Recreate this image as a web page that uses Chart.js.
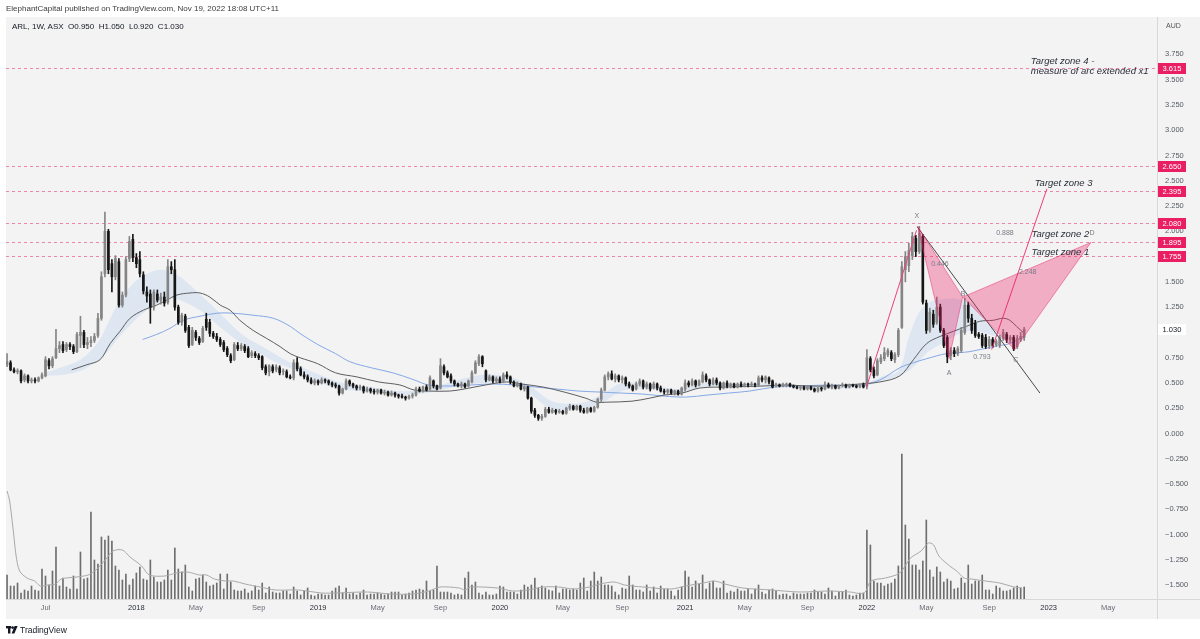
<!DOCTYPE html>
<html><head><meta charset="utf-8">
<script src="https://cdn.jsdelivr.net/npm/chart.js"></script>
<style>
html,body{margin:0;padding:0;background:#fff;width:1200px;height:639px;overflow:hidden;font-family:"Liberation Sans",Arial,sans-serif;}
#wrap{position:relative;width:1200px;height:639px;}
canvas{position:absolute;left:0;top:0;}
.t{position:absolute;white-space:nowrap;line-height:10px;}
</style></head><body>
<div id="wrap">
<canvas id="c" width="1200" height="639"></canvas>
<div class="t" style="left:6px;top:4px;font-size:8px;color:#3a3a3a;">ElephantCapital published on TradingView.com, Nov 19, 2022 18:08 UTC+11</div>
<div class="t" style="left:12px;top:22px;font-size:8px;color:#131722;">ARL, 1W, ASX&nbsp; O0.950&nbsp; H1.050&nbsp; L0.920&nbsp; C1.030</div>
<div class="t" style="left:6px;top:625px;font-size:8.5px;color:#131722;"><svg width="12" height="8" viewBox="0 0 12 8" style="vertical-align:-1px;margin-right:2px"><rect x="0" y="0" width="5" height="2.4" fill="#131722"/><rect x="2" y="0" width="2.4" height="7.5" fill="#131722"/><circle cx="6.6" cy="1.6" r="1.4" fill="#131722"/><polygon points="8.6,0 11.6,0 8.4,7.5 5.6,7.5" fill="#131722"/></svg>TradingView</div>
</div>
<script>
// ---- weekly candles (index 0 = week of 17 Apr 2017, index 291 = week of 14 Nov 2022)
const openPrices = [
0.68,0.70,0.63,0.61,0.62,0.53,0.57,0.52,0.53,0.52,
0.55,0.57,0.72,0.67,0.75,0.84,0.88,0.83,0.88,0.86,
0.81,0.97,1.00,0.88,0.90,0.92,0.97,1.14,1.58,2.00,
1.68,1.55,1.70,1.27,1.37,1.73,1.92,1.74,1.72,1.57,
1.40,1.38,1.25,1.38,1.32,1.35,1.30,1.65,1.62,1.25,
1.10,1.16,1.05,0.88,1.00,0.94,0.91,1.13,1.10,0.99,
0.96,0.93,0.90,0.84,0.77,0.73,0.87,0.84,0.86,0.84,
0.77,0.79,0.77,0.76,0.66,0.61,0.66,0.63,0.65,0.61,
0.61,0.56,0.55,0.70,0.64,0.58,0.56,0.53,0.50,0.52,
0.50,0.53,0.52,0.50,0.48,0.47,0.40,0.44,0.52,0.49,
0.47,0.45,0.46,0.42,0.44,0.42,0.41,0.43,0.40,0.41,
0.38,0.40,0.38,0.37,0.36,0.35,0.37,0.38,0.44,0.42,
0.46,0.44,0.52,0.47,0.45,0.66,0.60,0.57,0.52,0.49,
0.47,0.49,0.47,0.51,0.60,0.69,0.76,0.62,0.53,0.56,
0.52,0.54,0.52,0.58,0.56,0.51,0.47,0.49,0.44,0.46,
0.35,0.23,0.18,0.15,0.17,0.24,0.21,0.23,0.21,0.22,
0.20,0.25,0.27,0.24,0.27,0.23,0.21,0.25,0.22,0.26,
0.34,0.43,0.56,0.59,0.54,0.57,0.53,0.55,0.49,0.47,
0.44,0.49,0.52,0.46,0.49,0.45,0.49,0.45,0.42,0.41,
0.43,0.40,0.42,0.39,0.44,0.50,0.48,0.52,0.48,0.51,
0.57,0.53,0.49,0.53,0.50,0.45,0.50,0.47,0.49,0.46,
0.49,0.47,0.49,0.48,0.49,0.48,0.55,0.53,0.55,0.52,
0.47,0.48,0.47,0.48,0.49,0.47,0.46,0.45,0.46,0.44,
0.46,0.44,0.42,0.45,0.44,0.48,0.46,0.47,0.45,0.47,
0.48,0.46,0.48,0.47,0.46,0.48,0.47,0.74,0.63,0.58,
0.71,0.74,0.78,0.80,0.73,0.78,1.05,1.62,1.66,1.76,
1.93,1.80,1.95,1.29,1.02,1.18,1.10,1.25,1.02,0.95,
0.77,0.82,0.79,0.82,1.00,1.27,1.14,1.09,0.98,0.97,
0.95,0.87,0.93,0.88,0.87,0.94,0.98,0.93,0.95,0.86,
0.93,0.95];
const highPrices = [
0.79,0.72,0.65,0.64,0.63,0.59,0.58,0.55,0.55,0.56,
0.60,0.76,0.74,0.76,1.03,0.91,0.91,0.90,0.90,0.88,
1.00,1.16,1.02,0.95,0.96,0.99,1.19,1.60,2.19,2.02,
1.72,1.76,1.73,1.40,1.75,1.95,1.97,1.78,1.80,1.60,
1.45,1.42,1.42,1.42,1.39,1.40,1.72,1.70,1.72,1.27,
1.19,1.18,1.07,1.05,1.02,0.96,1.06,1.19,1.13,1.01,
0.99,0.95,0.92,0.86,0.79,0.90,0.90,0.89,0.88,0.86,
0.82,0.81,0.79,0.77,0.68,0.68,0.68,0.68,0.67,0.64,
0.63,0.58,0.73,0.75,0.66,0.61,0.58,0.55,0.54,0.53,
0.55,0.54,0.53,0.51,0.50,0.48,0.45,0.54,0.53,0.50,
0.48,0.48,0.47,0.46,0.45,0.44,0.44,0.44,0.43,0.42,
0.42,0.41,0.39,0.39,0.37,0.38,0.40,0.46,0.46,0.47,
0.48,0.57,0.53,0.48,0.74,0.68,0.62,0.59,0.53,0.50,
0.51,0.50,0.53,0.62,0.72,0.78,0.77,0.63,0.58,0.57,
0.56,0.56,0.60,0.61,0.57,0.52,0.51,0.50,0.47,0.47,
0.36,0.25,0.19,0.19,0.26,0.26,0.25,0.24,0.24,0.23,
0.26,0.29,0.28,0.28,0.28,0.25,0.26,0.26,0.27,0.35,
0.45,0.58,0.61,0.62,0.59,0.58,0.57,0.56,0.51,0.48,
0.51,0.54,0.53,0.51,0.50,0.51,0.50,0.47,0.44,0.44,
0.44,0.43,0.43,0.46,0.53,0.52,0.54,0.53,0.53,0.61,
0.59,0.54,0.55,0.55,0.51,0.51,0.52,0.50,0.50,0.50,
0.51,0.50,0.50,0.51,0.50,0.57,0.57,0.57,0.56,0.53,
0.50,0.49,0.50,0.50,0.50,0.48,0.47,0.47,0.47,0.47,
0.47,0.45,0.46,0.46,0.51,0.50,0.49,0.48,0.48,0.50,
0.49,0.49,0.49,0.48,0.49,0.50,0.83,0.76,0.66,0.74,
0.78,0.85,0.84,0.82,0.80,1.04,1.70,1.80,1.88,1.99,
1.96,2.05,1.97,1.32,1.24,1.22,1.35,1.28,1.04,0.97,
0.85,0.85,0.86,1.05,1.34,1.30,1.18,1.12,1.00,0.99,
0.98,0.96,0.95,0.93,0.97,1.03,1.00,0.97,0.97,0.97,
1.00,1.05];
const lowPrices = [
0.66,0.62,0.60,0.59,0.50,0.51,0.50,0.50,0.50,0.51,
0.54,0.56,0.64,0.65,0.74,0.80,0.80,0.81,0.83,0.79,
0.80,0.85,0.85,0.84,0.86,0.90,0.95,1.12,1.55,1.58,
1.40,1.52,1.25,1.25,1.35,1.70,1.70,1.64,1.55,1.38,
1.30,1.09,1.22,1.30,1.28,1.26,1.28,1.58,1.22,1.08,
1.07,1.00,0.85,0.87,0.92,0.88,0.90,1.02,0.96,0.94,
0.91,0.86,0.81,0.76,0.70,0.72,0.82,0.82,0.80,0.75,
0.75,0.75,0.73,0.63,0.58,0.57,0.60,0.61,0.58,0.58,
0.55,0.54,0.53,0.62,0.57,0.54,0.51,0.49,0.48,0.48,
0.49,0.50,0.48,0.46,0.45,0.38,0.39,0.43,0.47,0.45,
0.43,0.43,0.40,0.41,0.40,0.39,0.39,0.39,0.38,0.37,
0.37,0.36,0.35,0.35,0.33,0.34,0.35,0.37,0.41,0.41,
0.42,0.43,0.45,0.43,0.44,0.58,0.55,0.50,0.47,0.46,
0.45,0.45,0.46,0.50,0.59,0.67,0.66,0.51,0.52,0.50,
0.50,0.50,0.51,0.54,0.49,0.46,0.46,0.43,0.42,0.34,
0.20,0.16,0.13,0.13,0.16,0.20,0.20,0.19,0.20,0.19,
0.19,0.23,0.23,0.23,0.21,0.20,0.20,0.21,0.21,0.25,
0.31,0.42,0.53,0.53,0.51,0.51,0.50,0.47,0.45,0.42,
0.43,0.47,0.44,0.44,0.42,0.44,0.43,0.41,0.39,0.38,
0.39,0.38,0.38,0.38,0.42,0.46,0.47,0.46,0.47,0.50,
0.51,0.47,0.48,0.48,0.43,0.44,0.45,0.45,0.45,0.45,
0.46,0.46,0.46,0.47,0.46,0.47,0.51,0.50,0.49,0.45,
0.46,0.46,0.46,0.46,0.46,0.45,0.44,0.43,0.43,0.43,
0.43,0.41,0.41,0.42,0.43,0.45,0.44,0.44,0.44,0.46,
0.45,0.45,0.46,0.45,0.45,0.45,0.44,0.61,0.55,0.57,
0.69,0.72,0.76,0.72,0.70,0.76,1.04,1.50,1.60,1.72,
1.75,1.78,1.28,0.99,1.00,1.05,1.08,1.00,0.85,0.70,
0.73,0.76,0.77,0.80,0.98,1.10,0.99,0.95,0.94,0.85,
0.84,0.84,0.85,0.86,0.85,0.92,0.90,0.90,0.82,0.84,
0.91,0.92];
const closePrices = [
0.71,0.63,0.61,0.62,0.52,0.57,0.52,0.53,0.52,0.55,
0.58,0.73,0.67,0.74,0.84,0.87,0.82,0.88,0.86,0.81,
0.98,1.00,0.88,0.90,0.92,0.96,1.14,1.55,2.00,1.62,
1.55,1.73,1.27,1.37,1.72,1.90,1.74,1.68,1.58,1.41,
1.36,1.25,1.40,1.32,1.35,1.29,1.65,1.62,1.25,1.10,
1.17,1.02,0.87,1.02,0.95,0.90,1.04,1.05,0.99,0.96,
0.93,0.88,0.83,0.78,0.72,0.88,0.84,0.87,0.82,0.76,
0.80,0.77,0.75,0.65,0.60,0.67,0.62,0.66,0.60,0.62,
0.56,0.55,0.70,0.64,0.58,0.56,0.53,0.50,0.52,0.50,
0.53,0.52,0.50,0.48,0.47,0.40,0.44,0.52,0.49,0.47,
0.45,0.46,0.42,0.44,0.42,0.41,0.43,0.40,0.41,0.38,
0.40,0.38,0.37,0.36,0.35,0.37,0.38,0.44,0.42,0.46,
0.43,0.55,0.47,0.44,0.67,0.60,0.56,0.52,0.49,0.47,
0.49,0.46,0.52,0.60,0.70,0.76,0.69,0.53,0.56,0.52,
0.54,0.51,0.58,0.56,0.51,0.47,0.49,0.44,0.46,0.35,
0.22,0.18,0.15,0.17,0.24,0.21,0.23,0.21,0.22,0.20,
0.25,0.27,0.24,0.27,0.23,0.21,0.25,0.22,0.26,0.34,
0.43,0.56,0.59,0.54,0.57,0.53,0.55,0.49,0.47,0.43,
0.49,0.52,0.46,0.49,0.44,0.49,0.45,0.42,0.41,0.43,
0.40,0.42,0.39,0.45,0.50,0.48,0.52,0.48,0.52,0.58,
0.53,0.49,0.53,0.50,0.45,0.50,0.47,0.49,0.46,0.49,
0.47,0.49,0.48,0.49,0.48,0.55,0.53,0.56,0.51,0.46,
0.48,0.47,0.48,0.49,0.47,0.46,0.45,0.46,0.44,0.46,
0.44,0.42,0.45,0.44,0.48,0.46,0.47,0.45,0.47,0.48,
0.46,0.48,0.47,0.46,0.48,0.46,0.75,0.63,0.57,0.72,
0.75,0.80,0.82,0.74,0.78,1.02,1.65,1.75,1.81,1.95,
1.80,1.98,1.30,1.02,1.20,1.08,1.25,1.02,0.87,0.76,
0.82,0.79,0.84,1.02,1.27,1.14,1.02,0.97,0.96,0.87,
0.86,0.93,0.87,0.91,0.95,1.00,0.93,0.95,0.84,0.94,
0.96,1.03];
// weekly volume (chart units)
const volumes = [
24,13,13,16,6,9,8,13,9,8,
30,23,14,28,52,13,21,12,10,23,
10,47,20,21,87,39,35,62,59,63,
58,33,29,19,25,14,20,26,32,20,
19,39,22,17,17,19,29,19,51,30,
27,34,12,8,20,21,24,17,13,14,
16,25,10,25,17,9,8,8,10,6,
8,13,9,16,6,12,7,6,6,8,
8,5,12,8,4,8,11,4,3,5,
5,4,4,8,11,13,6,11,5,6,
4,6,9,4,5,5,6,5,4,5,
7,7,7,4,5,6,8,9,10,9,
18,8,9,33,7,7,7,6,4,5,
4,21,27,14,17,6,4,7,4,4,
5,13,12,7,7,7,5,9,14,12,
14,21,11,13,11,9,8,13,6,10,
10,9,10,9,16,21,8,18,27,18,
22,14,14,13,7,4,11,10,23,14,
9,9,7,14,8,12,6,13,10,10,
8,3,9,12,28,22,12,18,15,24,
10,16,18,11,11,18,6,8,7,10,
8,8,10,5,10,14,7,5,9,10,
8,4,5,5,3,6,5,5,5,6,
6,9,7,7,5,11,8,3,7,7,
9,4,3,4,6,6,69,54,18,16,
16,13,15,16,20,33,145,74,60,34,
34,29,38,79,29,22,32,27,17,20,
18,10,11,21,16,34,15,18,18,24,
9,9,5,13,11,8,8,9,11,13,
11,12];
// moving averages: [week index, value]
const maDarkWeeks  = [18.5,22.8,26.6,29.5,32.3,35.2,39,42.8,45.7,48.6,52.3,55.2,58,61,63.8,66.6,70.4,74.3,78.1,81,83.8,88.9,94,100.1,106.3,112.4,116.5,120.6,126.7,130.8,136.9,143,147.1,153.3,159.4,165.5,168.6,171.6,178.8,183.9,188,193.1,198.2,206.4,216.6,222.7,228.8,235,244,249.7,255.4,259.3,263.1,266.9,270.7,274.5,278.3,282.1,285,286.9,288.8,290.7];
const maDarkValues = [0.63,0.68,0.73,0.89,1.01,1.14,1.22,1.27,1.32,1.37,1.39,1.39,1.35,1.27,1.22,1.12,1.02,0.94,0.86,0.79,0.75,0.69,0.60,0.56,0.51,0.48,0.43,0.42,0.42,0.44,0.48,0.51,0.49,0.46,0.41,0.35,0.31,0.31,0.32,0.35,0.38,0.40,0.45,0.46,0.47,0.48,0.47,0.47,0.49,0.51,0.57,0.73,0.89,0.96,1.01,1.06,1.11,1.12,1.14,1.12,1.06,1.00];
const maBlueWeeks  = [38.8,42.8,46.6,50.4,55.2,60,64.7,70.4,76.2,81,83.8,88.9,94,98.1,104.2,110.4,116.5,120.6,126.7,132.8,139,145.1,151.2,157.3,163.5,169.6,175.7,181.9,188,194.1,200.3,206.4,212.5,219.7,226.8,235,244,249.7,255.4,259.3,263.1,268.8,275.5,282.1,286.9,290.7];
const maBlueValues = [0.93,0.98,1.04,1.12,1.16,1.19,1.19,1.17,1.14,1.06,0.99,0.88,0.79,0.71,0.65,0.60,0.53,0.48,0.47,0.48,0.49,0.48,0.46,0.44,0.42,0.41,0.40,0.39,0.37,0.36,0.38,0.40,0.42,0.46,0.47,0.48,0.48,0.53,0.65,0.70,0.74,0.79,0.81,0.86,0.89,0.96];
const bandWeeks = [11,16,21,26,29,32,36,40,44,48,52,56,60,64,68,72,76,80,84,88,96,104,112,120,128,136,144,150,156,164,170,176,184,192,200,210,220,230,244,250,255,258,261,264,268,272,276,280,284,286];
const bandUpper = [0.60,0.66,0.73,0.90,1.10,1.30,1.48,1.58,1.62,1.58,1.48,1.35,1.22,1.08,0.96,0.88,0.80,0.72,0.66,0.60,0.50,0.46,0.42,0.44,0.52,0.58,0.56,0.46,0.32,0.30,0.38,0.50,0.48,0.44,0.50,0.49,0.50,0.47,0.48,0.56,0.62,0.95,1.20,1.30,1.33,1.33,1.28,1.12,0.98,0.94];
const bandLower = [0.57,0.58,0.62,0.72,0.82,0.95,1.10,1.22,1.30,1.33,1.28,1.20,1.08,0.97,0.87,0.80,0.72,0.66,0.60,0.52,0.44,0.41,0.38,0.40,0.46,0.50,0.50,0.38,0.24,0.24,0.30,0.42,0.44,0.40,0.46,0.46,0.47,0.44,0.46,0.52,0.56,0.62,0.72,0.82,0.90,0.98,1.02,0.99,0.95,0.92];
const volMaWeeks  = [0,0.7,1.7,2.6,3.6,5.7,7.9,9.5,11.7,13.9,15.5,19.9,23.2,25.4,28.1,30.3,33,35.2,38.5,40.7,45.1,48.4,51.6,55,57.1,59.3,62.6,64.8,68.1,72.4,76.8,83.4,90,94.3,103.1,109.7,116.2,120.6,123.9,129.4,131,132.6,140.3,144.7,149.1,153.4,157.8,162.2,166.6,169.7,173.7,176.7,181.9,190,194.1,199.2,202.3,205.4,210.5,218.6,226.8,235,241.1,245.2,247.2,251.3,255.4,258.5,261.5,263.6,265.1,266.6,269.7,271.7,273.8,275.8,279.9,284,288.1,290.4];
const volMaValues = [108,99,71,43,28,21,18,13,14,15,20,22,24,29,39,48,49,42,33,24,23,26,27,24,24,20,18,18,15,12,9,9,6,6,7,5,5,8,12,11,9,12,11,8,9,12,12,10,12,15,17,14,12,10,13,16,18,15,11,9,7,8,7,6,18,21,26,41,48,56,54,43,33,28,21,20,18,16,12,11];
// horizontal target levels
const levelPrices = [3.615, 2.650, 2.395, 2.080, 1.895, 1.755];
const lastPrice = 1.030;
// trend lines: [startWeek, startPrice, endWeek, endPrice]
const pinkLineA = [245.9, 0.46, 260.2, 2.01];
const pinkLineB = [281.7, 0.83, 297.5, 2.42];
const darkLine  = [260.4, 2.045, 295.5, 0.40];
// XABCD harmonic pattern
const patternWeeks  = [260.5, 269.5, 273.4, 288.3, 310.1];
const patternPrices = [2.05, 0.74, 1.35, 0.83, 1.89];
const patternLabels = ['X','A','B','C','D'];
const patternLabelWeeks  = [260.3, 269.5, 273.5, 288.6, 310.4];
const patternLabelPrices = [2.151, 0.598, 1.380, 0.727, 1.983];
const ratioLabels = ['0.446','0.793','0.888','2.248'];
const ratioWeeks  = [266.9, 278.9, 285.5, 292];
const ratioPrices = [1.677, 0.757, 1.983, 1.597];
const zoneTexts  = ['Target zone 4 -','measure of arc extended x1','Target zone 3','Target zone 2','Target zone 1'];
const zoneWeeks  = [292.9, 292.9, 294, 293.1, 293.1];
const zonePrices = [3.678, 3.586, 2.475, 1.970, 1.792];
// axis ticks
const priceTicks = [-1.5,-1.25,-1,-0.75,-0.5,-0.25,0,0.25,0.5,0.75,1,1.25,1.5,1.75,2,2.25,2.5,2.75,3,3.25,3.5,3.75];
const timeTickWeeks  = [11,37,54,72,89,106,124,141,159,176,194,211,229,246,263,281,298,315];
const timeTickLabels = ['Jul','2018','May','Sep','2019','May','Sep','2020','May','Sep','2021','May','Sep','2022','May','Sep','2023','May'];

const UP = '#858585', DOWN = '#161616', PINK = '#e91e63';
const FONT = '"Liberation Sans", Arial, sans-serif';
const idx = openPrices.map((_, i) => i);
const candleColors = idx.map(i => closePrices[i] >= openPrices[i] ? UP : DOWN);
const pairs = (ws, vs) => ws.map((w, i) => ({x: w, y: vs[i]}));
const seg = a => [{x: a[0], y: a[1]}, {x: a[2], y: a[3]}];

const datasets = [
  {type:'line', data: pairs(bandWeeks, bandUpper), borderWidth:0, pointRadius:0, tension:0.35, fill:'+1', backgroundColor:'rgba(196,214,240,0.45)', order:30},
  {type:'line', data: pairs(bandWeeks, bandLower), borderWidth:0, pointRadius:0, tension:0.35, fill:false, order:29},
  {type:'bar', yAxisID:'yVol', data: idx.map(i => ({x:i, y:volumes[i]})), backgroundColor:'#6e6e6e', barThickness:1, grouped:false, order:25},
  {type:'line', yAxisID:'yVol', data: pairs(volMaWeeks, volMaValues), borderColor:'#a9a9a9', borderWidth:1, pointRadius:0, tension:0.3, fill:false, order:24},
  {type:'line', data: pairs(maDarkWeeks, maDarkValues), borderColor:'#5e5e5e', borderWidth:1, pointRadius:0, tension:0.35, fill:false, order:10},
  {type:'line', data: pairs(maBlueWeeks, maBlueValues), borderColor:'#86a9e6', borderWidth:1, pointRadius:0, tension:0.35, fill:false, order:11},
  {type:'bar', data: idx.map(i => ({x:i, y:[lowPrices[i], highPrices[i]]})), backgroundColor:candleColors, barThickness:1, grouped:false, order:4},
  {type:'bar', data: idx.map(i => ({x:i, y:[openPrices[i], closePrices[i]]})), backgroundColor:candleColors, barThickness:2, minBarLength:1, grouped:false, order:3},
  {type:'line', data: seg(pinkLineA), borderColor:'#ec407a', borderWidth:1, pointRadius:0, fill:false, order:1},
  {type:'line', data: seg(pinkLineB), borderColor:'#ec407a', borderWidth:1, pointRadius:0, fill:false, order:1},
  {type:'line', data: seg(darkLine), borderColor:'#4a4a4a', borderWidth:1, pointRadius:0, fill:false, order:1}
];

const annotate = {
  id: 'annotate',
  beforeDraw(chart) {
    const c = chart.ctx;
    c.save(); c.fillStyle = '#f3f3f3'; c.fillRect(6, 17, 1194, 602); c.restore();
  },
  beforeDatasetsDraw(chart) {
    // dashed target levels, placed through the price scale and snapped to the pixel grid
    const c = chart.ctx, y = chart.scales.y, a = chart.chartArea;
    c.save();
    c.strokeStyle = 'rgba(236,64,122,0.62)';
    c.lineWidth = 1;
    c.setLineDash([3, 3]);
    levelPrices.forEach(p => {
      const Y = Math.round(y.getPixelForValue(p)) + 0.5;
      c.beginPath(); c.moveTo(a.left, Y); c.lineTo(a.right, Y); c.stroke();
    });
    c.restore();
  },
  afterDatasetsDraw(chart) {
    const c = chart.ctx, x = chart.scales.x, y = chart.scales.y;
    const px = w => x.getPixelForValue(w), py = v => y.getPixelForValue(v);
    c.save();
    c.fillStyle = 'rgba(233,30,99,0.33)';
    c.strokeStyle = 'rgba(233,30,99,0.45)';
    c.lineWidth = 1;
    [[0,1,2],[2,3,4]].forEach(t => {
      c.beginPath();
      t.forEach((k, j) => { const X = px(patternWeeks[k]), Y = py(patternPrices[k]); j ? c.lineTo(X, Y) : c.moveTo(X, Y); });
      c.closePath(); c.fill(); c.stroke();
    });
    c.fillStyle = '#787b86';
    c.font = '7px ' + FONT;
    c.textAlign = 'center'; c.textBaseline = 'middle';
    patternLabels.forEach((l, k) => c.fillText(l, px(patternLabelWeeks[k]), py(patternLabelPrices[k])));
    ratioLabels.forEach((l, k) => c.fillText(l, px(ratioWeeks[k]), py(ratioPrices[k])));
    c.fillStyle = '#2a2e39';
    c.font = 'italic 9.5px ' + FONT;
    c.textAlign = 'left';
    zoneTexts.forEach((l, k) => c.fillText(l, px(zoneWeeks[k]), py(zonePrices[k])));
    c.restore();
  },
  afterDraw(chart) {
    const c = chart.ctx, y = chart.scales.y, a = chart.chartArea;
    c.save();
    c.strokeStyle = '#d8d8d8'; c.lineWidth = 1;
    c.beginPath(); c.moveTo(a.right + 0.5, 17); c.lineTo(a.right + 0.5, 619); c.stroke();
    c.beginPath(); c.moveTo(6, a.bottom + 0.5); c.lineTo(1200, a.bottom + 0.5); c.stroke();
    c.font = '7.5px ' + FONT; c.textBaseline = 'middle'; c.textAlign = 'center';
    levelPrices.forEach(p => {
      const Y = Math.round(y.getPixelForValue(p));
      c.fillStyle = PINK; c.fillRect(a.right + 1, Y - 5, 28, 11);
      c.fillStyle = '#ffffff'; c.fillText(p.toFixed(3), a.right + 15, Y + 1);
    });
    const Yl = Math.round(y.getPixelForValue(lastPrice));
    c.fillStyle = '#ffffff'; c.fillRect(a.right + 1, Yl - 5, 28, 11);
    c.fillStyle = '#131722'; c.fillText(lastPrice.toFixed(3), a.right + 15, Yl + 1);
    c.fillStyle = '#555'; c.font = '7px ' + FONT; c.textAlign = 'left';
    c.fillText('AUD', a.right + 9, 26);
    c.restore();
  }
};

new Chart(document.getElementById('c'), {
  type: 'bar',
  data: { datasets },
  plugins: [annotate],
  options: {
    responsive: false, animation: false, devicePixelRatio: 1,
    layout: { padding: { left: 6, top: 17, right: 0, bottom: 25 } },
    plugins: { legend: { display: false }, tooltip: { enabled: false } },
    scales: {
      x: {
        type: 'linear', min: -0.3, max: 329, offset: false,
        grid: { display: false, drawTicks: false }, border: { display: false },
        afterBuildTicks: s => { s.ticks = timeTickWeeks.map(v => ({ value: v })); },
        afterFit: s => { s.height = 15; },
        ticks: {
          autoSkip: false, maxRotation: 0, minRotation: 0, padding: 4,
          font: { size: 7.5, family: FONT },
          color: c => /^\d{4}$/.test(timeTickLabels[timeTickWeeks.indexOf(c.tick.value)] || '') ? '#2a2e39' : '#6a6d78',
          callback: v => timeTickLabels[timeTickWeeks.indexOf(v)]
        }
      },
      y: {
        position: 'right', min: -1.637, max: 4.12,
        grid: { display: false, drawTicks: false }, border: { display: false },
        afterBuildTicks: s => { s.ticks = priceTicks.map(v => ({ value: v })); },
        afterFit: s => { s.width = 43; },
        ticks: {
          padding: 8, font: { size: 7.5, family: FONT }, color: '#555a63',
          callback: v => v < 0 ? '\u2212' + Math.abs(v).toFixed(3) : v.toFixed(3)
        }
      },
      yVol: { display: false, min: 0, max: 582 }
    }
  }
});
</script>
</body></html>
